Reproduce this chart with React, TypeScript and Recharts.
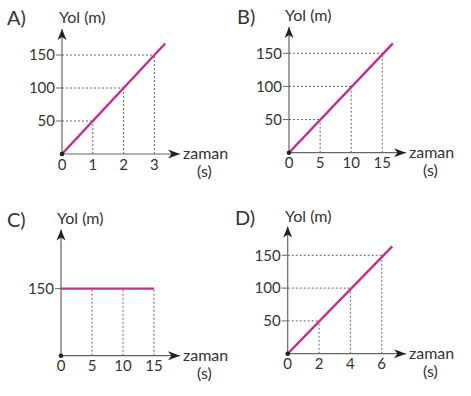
import {
  Line,
  LineChart,
  ReferenceDot,
  ReferenceLine,
  XAxis,
  YAxis,
} from "recharts";

// values (time in s, distance in m)
const timeA = [0, 3.35];
const yolA = [0, 167.5];
const xTicksA = [0, 1, 2, 3];
const yTicksA = [50, 100, 150];

const timeB = [0, 16.7];
const yolB = [0, 165];
const xTicksB = [0, 5, 10, 15];
const yTicksB = [50, 100, 150];

const timeC = [0, 15];
const yolC = [150, 150];
const xTicksC = [0, 5, 10, 15];
const yTicksC = [150];

const timeD = [0, 6.67];
const yolD = [0, 163.7];
const xTicksD = [0, 2, 4, 6];
const yTicksD = [50, 100, 150];

const FONT = "Lato, 'Open Sans', sans-serif";
const TEXT = "#333";
const PINK = "#c42f8e";
const AXIS = "#666";
const GUIDE = "#666";

type PanelProps = {
  letter: string;
  left: number;
  top: number;
  times: number[];
  yols: number[];
  xTicks: number[];
  yTicks: number[];
  origin: [number, number];
  pxX: number;
  pxY: number;
  tipX: number;
  tipY: number;
  letterPos: [number, number];
  yolX: number;
  yolBase: number;
};

const W = 235;
const H = 198;
const Y_AXIS_W = 40;
const X_AXIS_H = 24;

function ArrowRight(props: { cx?: number; cy?: number }) {
  const { cx = 0, cy = 0 } = props;
  return (
    <path
      d={`M${cx},${cy} L${cx - 12},${cy - 4.5} L${cx - 8.5},${cy} L${cx - 12},${cy + 4.5} Z`}
      fill="#222"
    />
  );
}

function ArrowUp(props: { cx?: number; cy?: number }) {
  const { cx = 0, cy = 0 } = props;
  return (
    <path
      d={`M${cx},${cy} L${cx - 4.5},${cy + 11} L${cx},${cy + 8} L${cx + 4.5},${cy + 11} Z`}
      fill="#222"
    />
  );
}

function Panel(p: PanelProps) {
  const [ox, oy] = p.origin;
  const xMax = (p.tipX - ox) / p.pxX;
  const yMax = (oy - p.tipY) / p.pxY;
  const data = p.times.map((t, i) => ({ x: t, y: p.yols[i] }));
  const guides = p.xTicks
    .filter((t) => t > 0)
    .map((t, i) => ({ x: t, y: p.yTicks[p.yTicks.length === 1 ? 0 : i] }));
  const flat = p.yols[0] === p.yols[p.yols.length - 1];

  return (
    <div style={{ position: "absolute", left: p.left, top: p.top, width: W, height: H }}>
      <div
        style={{
          position: "absolute",
          left: p.letterPos[0],
          top: p.letterPos[1],
          fontFamily: FONT,
          fontSize: 20,
          color: TEXT,
          lineHeight: 1,
        }}
      >
        {p.letter}
      </div>
      <LineChart
        width={W}
        height={H}
        data={data}
        margin={{
          top: p.tipY,
          left: ox - Y_AXIS_W,
          right: W - p.tipX,
          bottom: H - oy - X_AXIS_H,
        }}
        accessibilityLayer={false}
      >
        <XAxis
          type="number"
          dataKey="x"
          domain={[0, xMax]}
          ticks={p.xTicks}
          allowDataOverflow
          height={X_AXIS_H}
          tickLine={false}
          tickSize={0}
          tickMargin={5}
          axisLine={{ stroke: AXIS, strokeWidth: 1.2 }}
          tick={{ fill: TEXT, fontSize: 15, fontFamily: FONT }}
          label={{
            content: (props: any) => {
              const vb = props.viewBox || {};
              const x = (vb.x ?? 0) + (vb.width ?? 0);
              const y = vb.y ?? 0;
              return (
                <g fontFamily={FONT} fontSize={16} fill={TEXT}>
                  <text x={x + 3} y={y + 5}>zaman</text>
                  <text x={x + 17} y={y + 23}>(s)</text>
                </g>
              );
            },
          }}
        />
        <YAxis
          type="number"
          domain={[0, yMax]}
          ticks={p.yTicks}
          allowDataOverflow
          width={Y_AXIS_W}
          tickSize={6}
          tickMargin={1}
          tickLine={{ stroke: AXIS }}
          axisLine={{ stroke: AXIS, strokeWidth: 1.2 }}
          tick={{ fill: TEXT, fontSize: 15, fontFamily: FONT }}
          label={{
            content: () => (
              <text x={p.yolX} y={p.yolBase} fontFamily={FONT} fontSize={16} fill={TEXT}>
                Yol (m)
              </text>
            ),
          }}
        />
        {guides.map((g) => (
          <ReferenceLine
            key={`v${g.x}`}
            segment={[
              { x: g.x, y: 0 },
              { x: g.x, y: g.y },
            ]}
            stroke={GUIDE}
            strokeWidth={1}
            strokeDasharray="2 2"
          />
        ))}
        {!flat &&
          guides.map((g) => (
            <ReferenceLine
              key={`h${g.y}`}
              segment={[
                { x: 0, y: g.y },
                { x: g.x, y: g.y },
              ]}
              stroke={GUIDE}
              strokeWidth={1}
              strokeDasharray="2 2"
            />
          ))}
        <Line
          type="linear"
          dataKey="y"
          stroke={PINK}
          strokeWidth={2.4}
          dot={false}
          activeDot={false}
          isAnimationActive={false}
        />
        <ReferenceDot x={0} y={0} r={2.3} fill="#222" stroke="none" ifOverflow="visible" />
        <ReferenceDot x={xMax} y={0} ifOverflow="visible" shape={<ArrowRight />} />
        <ReferenceDot x={0} y={yMax} ifOverflow="visible" shape={<ArrowUp />} />
      </LineChart>
    </div>
  );
}

export default function App() {
  return (
    <div
      style={{
        position: "absolute",
        left: 0,
        top: 0,
        width: 471,
        height: 396,
        background: "#fff",
        overflow: "hidden",
      }}
    >
      <Panel
        letter="A)"
        left={0}
        top={0}
        times={timeA}
        yols={yolA}
        xTicks={xTicksA}
        yTicks={yTicksA}
        origin={[62, 154]}
        pxX={30.8}
        pxY={0.66}
        tipX={180}
        tipY={29}
        letterPos={[7, 7]}
        yolX={59}
        yolBase={23}
      />
      <Panel
        letter="B)"
        left={235}
        top={0}
        times={timeB}
        yols={yolB}
        xTicks={xTicksB}
        yTicks={yTicksB}
        origin={[54, 152.7]}
        pxX={6.22}
        pxY={0.663}
        tipX={171}
        tipY={27}
        letterPos={[2, 6]}
        yolX={50}
        yolBase={21}
      />
      <Panel
        letter="C)"
        left={0}
        top={198}
        times={timeC}
        yols={yolC}
        xTicks={xTicksC}
        yTicks={yTicksC}
        origin={[61, 157.7]}
        pxX={6.2}
        pxY={0.447}
        tipX={180}
        tipY={31.5}
        letterPos={[7, 11]}
        yolX={57}
        yolBase={26}
      />
      <Panel
        letter="D)"
        left={235}
        top={198}
        times={timeD}
        yols={yolD}
        xTicks={xTicksD}
        yTicks={yTicksD}
        origin={[52.7, 155.7]}
        pxX={15.67}
        pxY={0.656}
        tipX={171}
        tipY={28.5}
        letterPos={[0, 9]}
        yolX={50}
        yolBase={24}
      />
    </div>
  );
}
